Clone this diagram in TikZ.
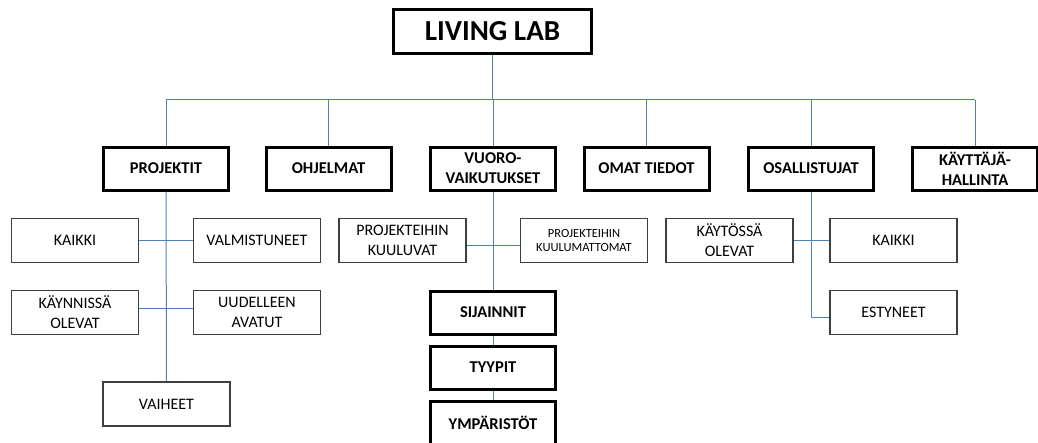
\documentclass[tikz,border=0pt]{standalone}
\usepackage{fontspec}
\setmainfont{Carlito}
\definecolor{linkblue}{HTML}{4F81BD}
\definecolor{thinframe}{HTML}{3F3F3F}
\tikzset{
  mainbox/.style={draw=black, line width=3pt, fill=white, minimum width=125pt, minimum height=43pt,
    inner sep=1pt, align=center, font=\fontsize{16.5}{20}\selectfont\bfseries},
  subbox/.style={draw=thinframe, line width=1.3pt, fill=white, minimum width=127pt, minimum height=44pt,
    inner sep=1pt, align=center, font=\fontsize{16}{20}\selectfont},
  smallsub/.style={subbox, font=\fontsize{12.5}{14}\selectfont},
  link/.style={draw=linkblue, line width=1pt},
}
\begin{document}
\begin{tikzpicture}[x=1pt, y=-1pt]
\useasboundingbox (0,0) rectangle (1038,442);

% main bus and row levels of the side branches
\coordinate (busL) at (166,99.5);
\coordinate (busR) at (975,99.5);
\coordinate (rowA) at (0,240);
\coordinate (rowB) at (0,308);
\coordinate (rowC) at (0,245);
\coordinate (rowD) at (0,317);

% top
\node[mainbox, minimum width=198pt, minimum height=44pt, font=\fontsize{29}{32}\selectfont\bfseries] (top) at (492.5,31.5) {LIVING LAB};

% first level
\node[mainbox] (proj)  at (166,168.5)   {PROJEKTIT};
\node[mainbox] (ohj)   at (328.5,168.5) {OHJELMAT};
\node[mainbox] (vuoro) at (493,168.5)   {VUORO-\\VAIKUTUKSET};
\node[mainbox] (omat)  at (646.5,168.5) {OMAT TIEDOT};
\node[mainbox] (osal)  at (811,168.5)   {OSALLISTUJAT};
\node[mainbox] (kayt)  at (975,168.5)   {KÄYTTÄJÄ-\\HALLINTA};

% projects
\node[subbox] (kaikkiA) at (75,240.5)  {KAIKKI};
\node[subbox] (valm)    at (257,240.5) {VALMISTUNEET};
\node[subbox] (kayn)    at (75,312.5)  {KÄYNNISSÄ\\OLEVAT};
\node[subbox] (uud)     at (257,312.5) {UUDELLEEN\\AVATUT};
\node[subbox] (vaih)    at (166.5,404) {VAIHEET};

% interactions
\node[subbox]   (pk)  at (402.5,240.5) {PROJEKTEIHIN\\KUULUVAT};
\node[smallsub] (pkm) at (584,240.5)   {PROJEKTEIHIN\\KUULUMATTOMAT};
\node[mainbox]  (sij) at (493,312.5)   {SIJAINNIT};
\node[mainbox]  (tyy) at (493,367.5)   {TYYPIT};
\node[mainbox]  (ymp) at (493,422.5)   {YMPÄRISTÖT};

% participants
\node[subbox] (kaytossa) at (729.5,240.5) {KÄYTÖSSÄ\\OLEVAT};
\node[subbox] (kaikkiB)  at (893.5,240.5) {KAIKKI};
\node[subbox] (est)      at (893.5,312.5) {ESTYNEET};

% connectors
\draw[link] (top.south) -- (top.south |- busL);
\draw[link] (proj.north) |- (busR);
\draw[link] (kayt.north) -- (kayt.north |- busR);
\draw[link] (ohj.north) -- (ohj.north |- busL);
\draw[link] (vuoro.north) -- (vuoro.north |- busL);
\draw[link] (omat.north) -- (omat.north |- busL);
\draw[link] (osal.north) -- (osal.north |- busL);

\draw[link] (proj.south) -- (vaih.north);
\draw[link] (kaikkiA.east |- rowA) -- (valm.west |- rowA);
\draw[link] (kayn.east |- rowB) -- (uud.west |- rowB);

\draw[link] (vuoro.south) -- (sij.north);
\draw[link] (pk.east |- rowC) -- (pkm.west |- rowC);
\draw[link] (sij.south) -- (tyy.north);
\draw[link] (tyy.south) -- (ymp.north);

\draw[link] (osal.south) |- (est.west |- rowD);
\draw[link] (kaytossa.east |- rowA) -- (kaikkiB.west |- rowA);
\end{tikzpicture}
\end{document}
